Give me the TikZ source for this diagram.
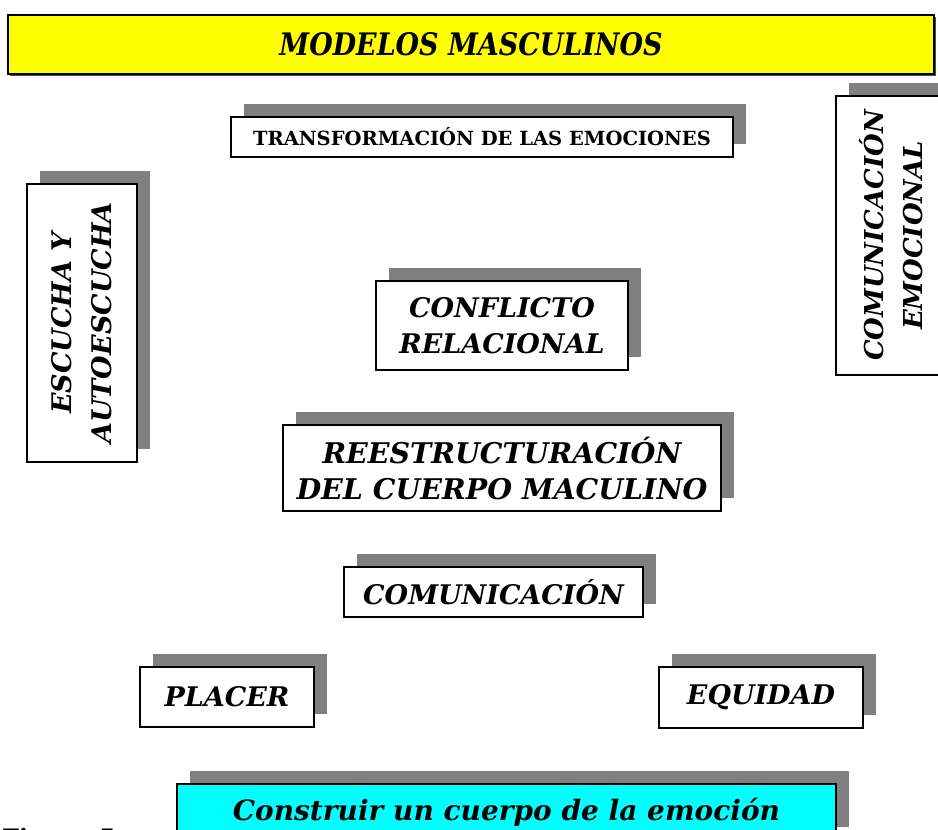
\documentclass[tikz,border=0pt]{standalone}
\usepackage{fontspec}
\setmainfont{DejaVu Serif}
\newfontfamily\narrowfont[FakeStretch=0.87]{DejaVu Serif}
\usetikzlibrary{shadows}
\definecolor{banner}{RGB}{255,255,0}
\definecolor{aqua}{RGB}{0,255,255}

\begin{document}
\begin{tikzpicture}[x=1pt,y=-1pt,
    box/.style={draw, line width=1.2pt, fill=white, inner sep=0pt,
      drop shadow={shadow xshift=13pt, shadow yshift=13pt, fill=gray, opacity=1}},
    lbl/.style={font=\fontsize{27}{36}\selectfont\bfseries\itshape, align=center},
    vlbl/.style={font=\fontsize{26}{39}\selectfont\bfseries\itshape, align=center, rotate=90}]
    \useasboundingbox (0,0) rectangle (938,830);
    \clip (0,0) rectangle (938,830);

    \node[draw, line width=1.2pt, fill=banner, minimum width=926pt, minimum height=59pt,
      drop shadow={shadow xshift=2pt, shadow yshift=-2pt, fill=black!70, opacity=1},
      font=\narrowfont\fontsize{31}{32}\selectfont\bfseries\itshape] (modelos) at (471,44.5) {MODELOS MASCULINOS};

    \node[box, minimum width=502pt, minimum height=40pt, font=\fontsize{19.5}{22}\selectfont\bfseries] (transf) at (482,137) {TRANSFORMACIÓN DE LAS EMOCIONES};

    \node[box, minimum width=110pt, minimum height=279pt] (comemo) at (891,235.5) {};
    \node[vlbl] (comemotxt) at (comemo) {COMUNICACIÓN\\EMOCIONAL};

    \node[box, minimum width=110pt, minimum height=278pt] (escucha) at (82,323) {};
    \node[vlbl, font=\fontsize{27}{40}\selectfont\bfseries\itshape] (escuchatxt) at (escucha) {ESCUCHA Y\\AUTOESCUCHA};

    \node[box, lbl, minimum width=252pt, minimum height=89pt] (conflicto) at (502,325.5) {CONFLICTO\\RELACIONAL};
    \node[box, lbl, font=\fontsize{28.5}{36}\selectfont\bfseries\itshape, minimum width=438pt, minimum height=86pt] (reestr) at (502,468) {REESTRUCTURACIÓN\\DEL CUERPO MACULINO};
    \node[box, lbl, minimum width=299pt, minimum height=50pt] (comun) at (493.5,592) {COMUNICACIÓN};
    \node[box, lbl, minimum width=174pt, minimum height=60pt] (placer) at (227,697) {PLACER};
    \node[box, lbl, minimum width=204pt, minimum height=61pt] (equidad) at (761,697.5) {EQUIDAD};

    \node[box, fill=aqua, minimum width=659pt, minimum height=56pt,
      font=\fontsize{28}{30}\selectfont\bfseries\itshape] (construir) at (506.5,812) {Construir un cuerpo de la emoción};

    \node[anchor=north west, inner sep=0pt, font=\fontsize{24}{26}\selectfont\bfseries] (figura) at (2,828) {Figura 5.};
\end{tikzpicture}
\end{document}
